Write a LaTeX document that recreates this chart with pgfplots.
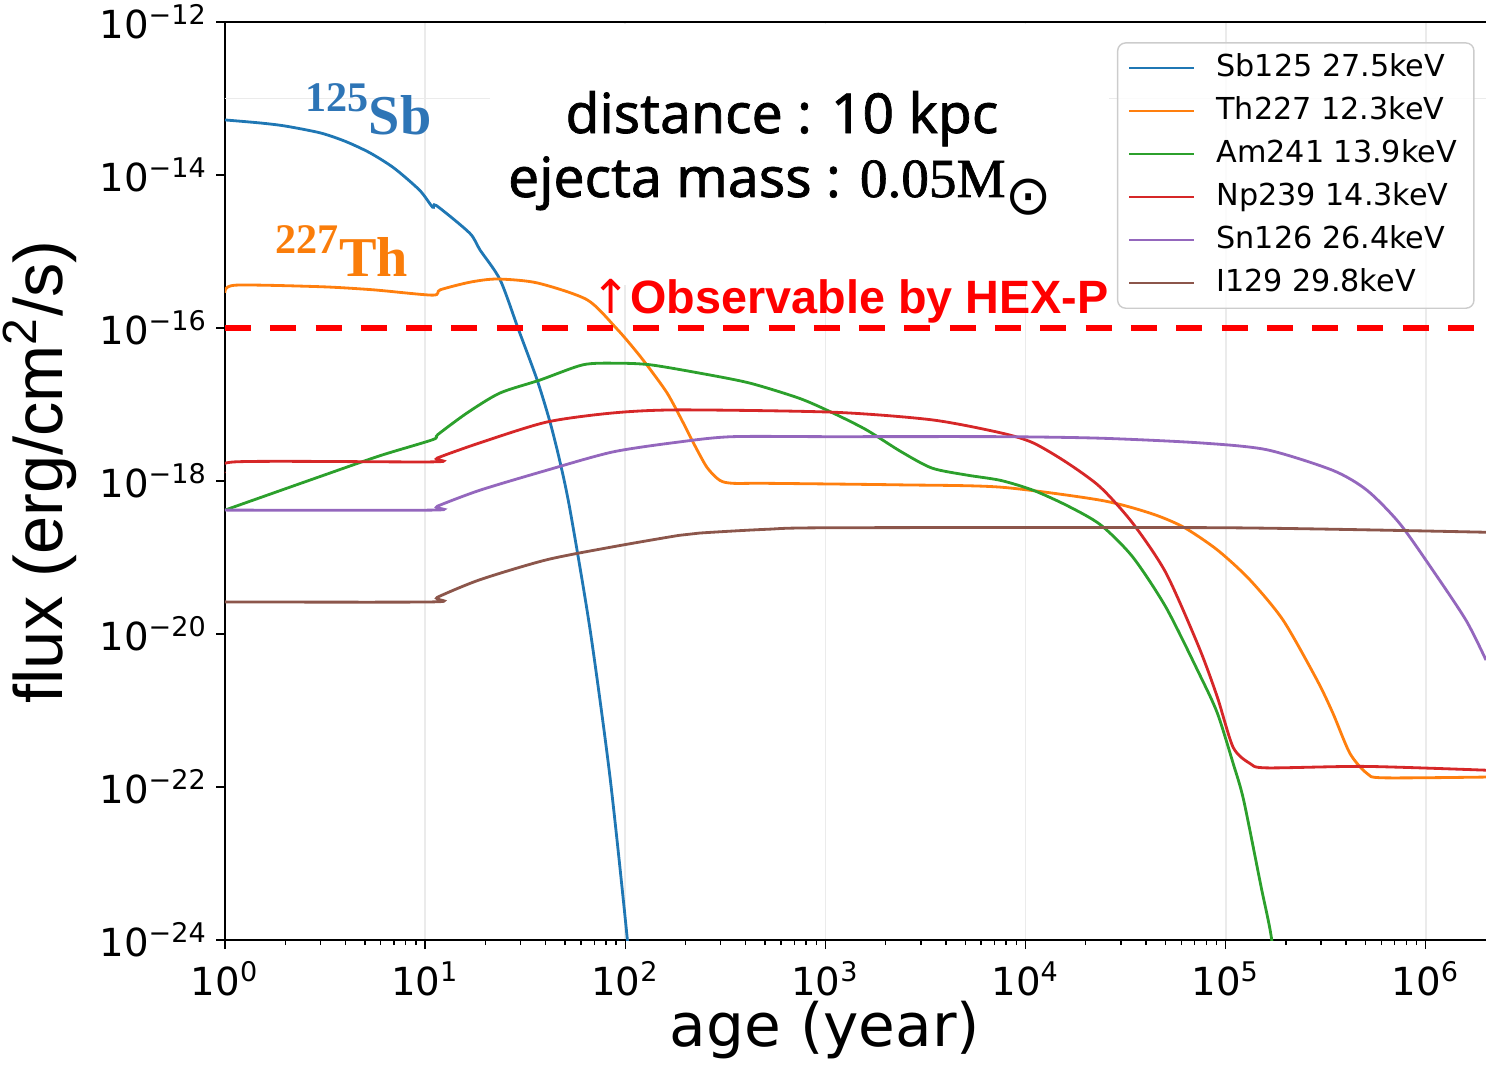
\documentclass[border=0pt]{standalone}
\usepackage{fontspec}
\setmainfont{DejaVu Sans}
\newfontfamily\serifface{Liberation Serif}
\newfontfamily\serifheavy{Liberation Serif}[FakeBold=1.2]
\newfontfamily\annotface{Noto Sans}[FakeBold=1.2]
\newfontfamily\labelface{Liberation Sans}
\newfontfamily\symface{DejaVu Sans}
\usepackage{pgfplots}
\pgfplotsset{compat=1.18}

\definecolor{c0}{HTML}{1F77B4}
\definecolor{c1}{HTML}{FF7F0E}
\definecolor{c2}{HTML}{2CA02C}
\definecolor{c3}{HTML}{D62728}
\definecolor{c4}{HTML}{9467BD}
\definecolor{c5}{HTML}{8C564B}
\definecolor{sbtext}{RGB}{46,117,182}
\definecolor{thtext}{RGB}{250,125,10}

\begin{document}
\begin{tikzpicture}
\begin{axis}[
  scale only axis,
  width=126.1mm, height=91.8mm,
  xmode=log, ymode=log,
  xmin=1, xmax=2e6, ymin=1e-24, ymax=1e-12,
  axis y line*=left,
  xtick pos=left,
  tick align=outside,
  xtick={1,10,100,1e3,1e4,1e5,1e6},
  xticklabels={10\textsuperscript{0},10\textsuperscript{1},10\textsuperscript{2},10\textsuperscript{3},10\textsuperscript{4},10\textsuperscript{5},10\textsuperscript{6}},
  ytick={1e-24,1e-22,1e-20,1e-18,1e-16,1e-14,1e-12},
  yticklabels={10\textsuperscript{−24},10\textsuperscript{−22},10\textsuperscript{−20},10\textsuperscript{−18},10\textsuperscript{−16},10\textsuperscript{−14},10\textsuperscript{−12}},
  yminorticks=false,
  major tick length=0.9mm, minor tick length=0.5mm,
  tick style={black, line width=0.4pt},
  axis line style={line width=0.5pt},
  xmajorgrids,
  grid style={line width=0.5pt, black!8},
  extra y ticks={1e-13}, extra y tick labels={},
  extra y tick style={grid=major, major tick length=0pt},
  ticklabel style={font=\fontsize{11}{13}\selectfont},
  yticklabel style={xshift=0.4mm},
  clip mode=individual,
  legend style={at={(0.991,0.978)}, anchor=north east, draw=black!20,
    rounded corners=0.8mm, fill=white, fill opacity=0.8, text opacity=1,
    font=\fontsize{8.6}{10.3}\selectfont, row sep=0.2pt,
    inner xsep=1.0mm, inner ysep=0.4mm,
    /tikz/every odd column/.append style={column sep=1.4mm}},
  legend cell align=left,
  legend image code/.code={\draw[#1] (0mm,0mm) -- (6.5mm,0mm);},
  every axis plot/.append style={line width=0.8pt, smooth, tension=0.45},
]
% white panel behind the notes hides the grid there
\fill[white] (axis cs:21,9.3e-13) rectangle (axis cs:26200,3.6e-16);

\addplot[c0] coordinates {
 (1,5.25e-14) (1.5,4.79e-14) (2,4.37e-14) (3,3.55e-14) (4,2.75e-14) (5.3,1.95e-14)
 (7,1.23e-14) (9.4,6.31e-15) (10.9,3.80e-15)
 (11.4,3.98e-15) (16.7,1.74e-15) (18.8,1.05e-15) (23.7,4.27e-16) (29.1,1.0e-16)
 (36.3,2.09e-17) (42.2,5.75e-18) (47.3,1.74e-18) (53.0,4.17e-19) (66.8,1.12e-20)
 (84,1.32e-22) (102.5,1e-24) (110,1e-25)};
\addlegendentry{Sb125 27.5keV}

\addplot[c1] coordinates {
 (1,2.88e-16) (1.12,3.63e-16) (2.98,3.47e-16) (5.5,3.16e-16) (10.9,2.69e-16)
 (11.9,3.16e-16) (16.8,3.98e-16) (22.9,4.37e-16) (36.3,3.89e-16) (64.5,2.34e-16)
 (90,1.0e-16) (109,5.62e-17) (128,3.31e-17) (162,1.41e-17) (195,5.75e-18)
 (219,3.16e-18) (256,1.51e-18) (297,1.02e-18) (346,9.33e-19) (513,9.33e-19)
 (2371,8.91e-19) (7499,8.32e-19) (23650,5.62e-19) (42000,3.80e-19) (61400,2.51e-19)
 (90800,1.26e-19) (132000,5.13e-20) (194000,1.51e-20) (286000,2.51e-21)
 (343000,9.33e-22) (418000,2.75e-22) (508000,1.51e-22) (611000,1.32e-22) (2e6,1.35e-22)};
\addlegendentry{Th227 12.3keV}

\addplot[c2] coordinates {
 (1,4.17e-19) (3,1.15e-18) (5.94,2.14e-18) (10.9,3.47e-18) (11.6,4.07e-18)
 (16.2,7.76e-18) (23.6,1.41e-17) (37.5,2.09e-17) (61.6,3.31e-17) (90.6,3.47e-17)
 (133,3.31e-17) (236,2.57e-17) (418,1.91e-17) (745,1.20e-17) (1090,7.76e-18)
 (1600,4.68e-18) (2370,2.45e-18) (3400,1.48e-18) (5050,1.20e-18) (7500,1.02e-18)
 (10900,7.59e-19) (16100,4.79e-19) (23650,2.69e-19) (34300,1.02e-19) (50300,2.24e-20)
 (73500,3.09e-21) (90800,9.33e-22) (109000,2.04e-22) (123000,6.76e-23)
 (150000,5.13e-24) (170000,1e-24) (185000,1e-25)};
\addlegendentry{Am241 13.9keV}

\addplot[c3] coordinates {
 (1,1.26e-18) (1.12,1.78e-18) (10.9,1.78e-18) (11.5,2.0e-18) (18.8,3.16e-18)
 (40.4,5.89e-18) (86.6,7.76e-18) (186,8.51e-18) (1090,7.94e-18) (3400,6.31e-18)
 (7500,4.27e-18) (10900,3.16e-18) (16100,1.74e-18) (23650,8.32e-19) (34300,2.82e-19)
 (50300,6.31e-20) (73500,6.76e-21) (90800,1.51e-21) (109000,3.31e-22)
 (132000,2.04e-22) (160000,1.78e-22) (500000,1.86e-22) (2e6,1.66e-22)};
\addlegendentry{Np239 14.3keV}

\addplot[c4] coordinates {
 (1,4.17e-19) (10.9,4.17e-19) (11.5,4.68e-19) (18.8,7.59e-19) (40.4,1.38e-18)
 (86.6,2.40e-18) (186,3.24e-18) (343,3.80e-18) (1090,3.80e-18) (7500,3.80e-18)
 (23650,3.63e-18) (73500,3.16e-18) (160000,2.57e-18) (343000,1.38e-18)
 (508000,7.59e-19) (738000,2.82e-19) (1.08e6,6.92e-20) (1.59e6,1.51e-20) (2e6,4.57e-21)};
\addlegendentry{Sn126 26.4keV}

\addplot[c5] coordinates {
 (1,2.63e-20) (10.9,2.63e-20) (11.5,3.02e-20) (18.8,5.13e-20) (40.4,9.33e-20)
 (86.6,1.38e-19) (186,1.95e-19) (236,2.09e-19) (510,2.34e-19) (1090,2.45e-19)
 (1e5,2.45e-19) (2e6,2.14e-19)};
\addlegendentry{I129 29.8keV}

\addplot[red, line width=1.85pt, sharp plot, dash pattern=on 2.6mm off 1.93mm, forget plot]
  coordinates {(1,1e-16) (2e6,1e-16)};

\node[anchor=base west, inner sep=0, text=sbtext, font=\serifface\bfseries\fontsize{16}{16}\selectfont]
  at (rel axis cs:0.0634,0.878) {\raisebox{2.3mm}{\fontsize{12}{12}\selectfont 125}Sb};
\node[anchor=base west, inner sep=0, text=thtext, font=\serifface\bfseries\fontsize{16}{16}\selectfont]
  at (rel axis cs:0.0397,0.7233) {\raisebox{2.3mm}{\fontsize{12}{12}\selectfont 227}Th};

\node[anchor=base, inner sep=0, font=\annotface\fontsize{15.7}{16}\selectfont]
  at (rel axis cs:0.4417,0.8791) {distance : 10 kpc};
\node[anchor=base, inner sep=0, font=\annotface\fontsize{15.7}{16}\selectfont]
  at (rel axis cs:0.4401,0.8094) {ejecta mass : {\serifheavy 0.05M}{\symface\raisebox{-1.8mm}{⊙}}};

\node[anchor=base west, inner sep=0, text=red, font=\labelface\bfseries\fontsize{13.3}{14}\selectfont]
  at (rel axis cs:0.290,0.683) {{\symface\mdseries ↑}Observable by HEX-P};

\node[rotate=90, anchor=base, inner sep=0, font=\labelface\fontsize{19.5}{21}\selectfont]
  at (rel axis cs:-0.1285,0.5098) {flux (erg/cm\textsuperscript{2}/s)};
\node[anchor=base, inner sep=0, font=\fontsize{17}{19}\selectfont]
  at (rel axis cs:0.4758,-0.1155) {age (year)};
\end{axis}
\pgfresetboundingbox
\path[use as bounding box] (-22.5mm,-12.7mm) rectangle (126.1mm,94.0mm);
\end{tikzpicture}
\end{document}
